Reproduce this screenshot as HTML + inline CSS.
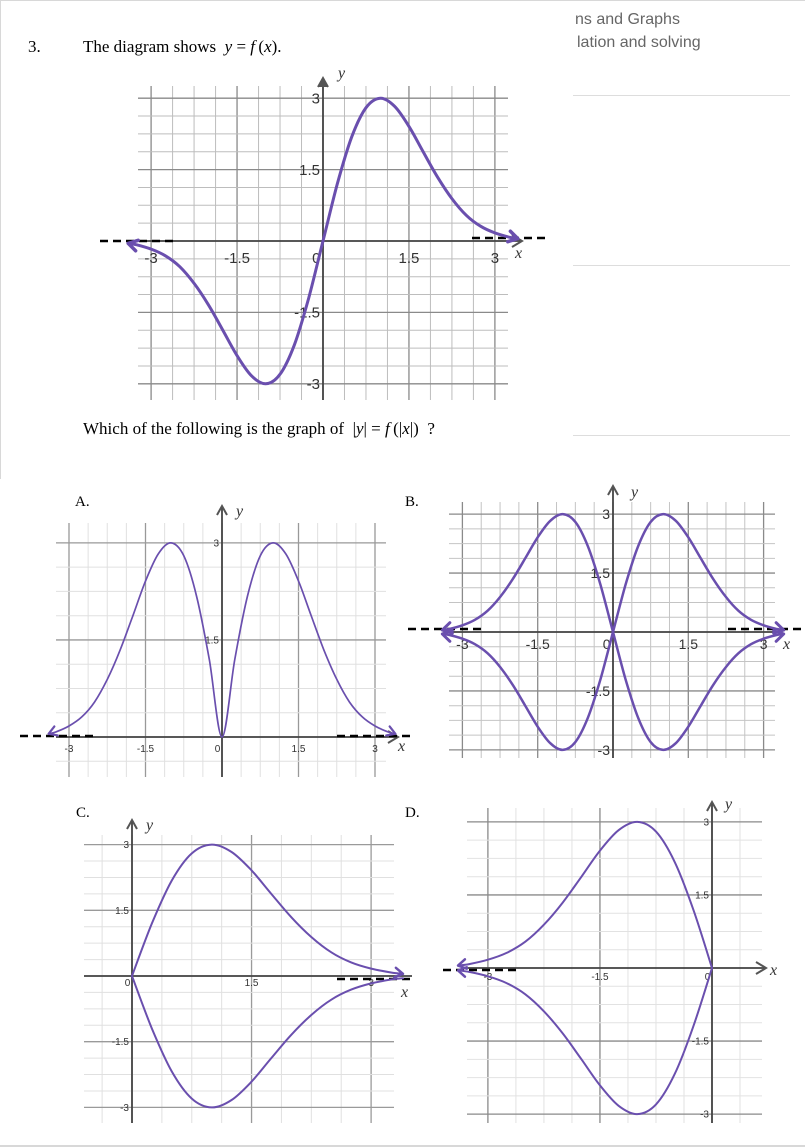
<!DOCTYPE html>
<html><head><meta charset="utf-8">
<style>
html,body{margin:0;padding:0;background:#fff;}
body{width:805px;height:1147px;overflow:hidden;position:relative;}
.t{position:absolute;font-family:"Liberation Serif",serif;font-size:17px;color:#000;white-space:nowrap;}
.g{position:absolute;font-family:"Liberation Sans",sans-serif;font-size:16px;color:#666;white-space:nowrap;}
svg text{font-family:"Liberation Sans",sans-serif;}
</style></head>
<body>
<div style="position:absolute;left:0;top:0;width:804px;height:478px;border-top:1px solid #d8d8d8;border-left:1px solid #d8d8d8;border-right:1px solid #d8d8d8;"></div>
<div style="position:absolute;left:0;top:1145px;width:805px;height:2px;background:#d8d8d8;"></div>
<div class="t" style="left:28px;top:37px;">3.</div>
<div class="t" style="left:83px;top:37px;">The diagram shows&nbsp; <i>y</i> = <i>f</i>&thinsp;(<i>x</i>).</div>
<div class="g" style="left:575px;top:11px;">ns and Graphs</div>
<div class="g" style="left:577px;top:34px;">lation and solving</div>
<div style="position:absolute;left:573px;top:95px;width:217px;height:1px;background:#ddd;"></div>
<div style="position:absolute;left:573px;top:265px;width:217px;height:1px;background:#ddd;"></div>
<div style="position:absolute;left:573px;top:435px;width:217px;height:1px;background:#ddd;"></div>
<div class="t" style="left:83px;top:419px;">Which of the following is the graph of &nbsp;|<i>y</i>| = <i>f</i>&thinsp;(|<i>x</i>|)&nbsp; ?</div>
<div class="t" style="left:75px;top:494px;font-size:15px;">A.</div>
<div class="t" style="left:405px;top:494px;font-size:15px;">B.</div>
<div class="t" style="left:76px;top:805px;font-size:15px;">C.</div>
<div class="t" style="left:405px;top:805px;font-size:15px;">D.</div>

<svg id="chart" width="805" height="1147" style="position:absolute;left:0;top:0;"></svg>

<script>
const xSamples = [0, 0.25, 0.5, 0.75, 1, 1.25, 1.5, 1.75, 2, 2.25, 2.5, 2.75, 3, 3.25, 3.4];
const fValues  = [0, 1.2, 2.18, 2.8, 3.0, 2.83, 2.41, 1.87, 1.34, 0.89, 0.54, 0.31, 0.17, 0.08, 0.05];
const tickLabelsX = ["-3", "-1.5", "0", "1.5", "3"];
const tickValuesX = [-3, -1.5, 0, 1.5, 3];
const tickLabelsY = ["3", "1.5", "-1.5", "-3"];
const tickValuesY = [3, 1.5, -1.5, -3];

const NS = "http://www.w3.org/2000/svg";
const svg = document.getElementById("chart");
const PURPLE = "#6a4fae";

function mk(tag, attrs, parent) {
  const e = document.createElementNS(NS, tag);
  for (const k in attrs) e.setAttribute(k, attrs[k]);
  (parent || svg).appendChild(e);
  return e;
}

function smoothPath(pts) {
  let d = "M" + pts[0][0].toFixed(1) + "," + pts[0][1].toFixed(1);
  for (let i = 0; i < pts.length - 1; i++) {
    const p0 = pts[Math.max(0, i - 1)], p1 = pts[i], p2 = pts[i + 1], p3 = pts[Math.min(pts.length - 1, i + 2)];
    const c1 = [p1[0] + (p2[0] - p0[0]) / 6, p1[1] + (p2[1] - p0[1]) / 6];
    const c2 = [p2[0] - (p3[0] - p1[0]) / 6, p2[1] - (p3[1] - p1[1]) / 6];
    d += " C" + c1[0].toFixed(1) + "," + c1[1].toFixed(1) + " " + c2[0].toFixed(1) + "," + c2[1].toFixed(1) + " " + p2[0].toFixed(1) + "," + p2[1].toFixed(1);
  }
  return d;
}

function graph(cfg) {
  const g = mk("g", {});
  
  
  const sx = v => cfg.ox + v * cfg.kx;
  const sy = v => cfg.oy - v * cfg.ky;
  // grid
  for (let i = 0; ; i++) {
    const v = cfg.gx0 + i * 0.375;
    if (v > cfg.gx1 + 1e-6) break;
    const major = Math.abs(v / 1.5 - Math.round(v / 1.5)) < 1e-6;
    const l = mk("line", {x1: sx(v), x2: sx(v), y1: cfg.vy0, y2: cfg.vy1, stroke: major ? cfg.majC : cfg.minC, "stroke-width": major ? 1.3 : 1}, g);
    
    
  }
  for (let i = 0; ; i++) {
    const v = cfg.gy1 - i * 0.375;
    if (v < cfg.gy0 - 1e-6) break;
    const major = Math.abs(v / 1.5 - Math.round(v / 1.5)) < 1e-6;
    const l = mk("line", {x1: cfg.hx0, x2: cfg.hx1, y1: sy(v), y2: sy(v), stroke: major ? cfg.majC : cfg.minC, "stroke-width": major ? 1.3 : 1}, g);
    
    
  }
  // axes
  const ax = mk("line", {x1: cfg.hx0, x2: cfg.axEnd, y1: cfg.oy, y2: cfg.oy, stroke: "#444", "stroke-width": 1.8}, g);
  
  
  const ay = mk("line", {x1: cfg.ox, x2: cfg.ox, y1: cfg.vy1, y2: cfg.ayEnd, stroke: "#444", "stroke-width": 1.8}, g);
  
  
  if (cfg.axArrowX) {
    const a = mk("path", {d: `M${cfg.axEnd-10},${cfg.oy-6} L${cfg.axEnd},${cfg.oy} L${cfg.axEnd-10},${cfg.oy+6}`, fill: "none", stroke: "#555", "stroke-width": 2}, g);
    
    
  }
  const ya = mk("path", {d: `M${cfg.ox-5},${cfg.ayEnd+9} L${cfg.ox},${cfg.ayEnd} L${cfg.ox+5},${cfg.ayEnd+9}`, fill: cfg.fillArrow ? "#555" : "none", stroke: "#555", "stroke-width": 2}, g);
  
  
  const xl = mk("text", {x: cfg.xLab[0], y: cfg.xLab[1], "font-size": 16, "font-style": "italic", fill: "#333", style: "font-family:'Liberation Serif',serif"}, g);
  xl.textContent = "x";
  
  
  const yl = mk("text", {x: cfg.yLab[0], y: cfg.yLab[1], "font-size": 16, "font-style": "italic", fill: "#333", style: "font-family:'Liberation Serif',serif"}, g);
  yl.textContent = "y";
  
  
  // tick labels
  tickValuesX.forEach((v, i) => {
    if (v < cfg.gx0 - 0.01 || v > cfg.gx1 + 0.01) return;
    const t = mk("text", {x: sx(v) + (v === 0 ? -cfg.fs * 0.45 : 0), y: cfg.oy + cfg.xTickDy, "font-size": cfg.fs, fill: "#333", "text-anchor": "middle"}, g);
    t.textContent = tickLabelsX[i];
    
    
  });
  tickValuesY.forEach((v, i) => {
    if (v < cfg.gy0 - 0.01 || v > cfg.gy1 + 0.01) return;
    const t = mk("text", {x: cfg.ox - 3, y: sy(v) + cfg.fs * 0.35, "font-size": cfg.fs, fill: "#333", "text-anchor": "end"}, g);
    t.textContent = tickLabelsY[i];
    
    
  });
  // dashed asymptotes
  cfg.dashes.forEach(d => {
    const l = mk("line", {x1: d[0], x2: d[1], y1: d[2], y2: d[2], stroke: "#000", "stroke-width": 2.5, "stroke-dasharray": "8,5"}, g);
    
    
  });
  // curves
  cfg.branches.forEach(br => {
    const pts = xSamples.map((x, i) => [sx(br.sx * x), sy(br.sy * fValues[i])]);
    if (br.full) {
      const neg = xSamples.slice(1).map((x, i) => [sx(-x), sy(br.fullSign * fValues[i + 1])]).reverse();
      pts.unshift(...neg);
    }
    const p = mk("path", {d: smoothPath(pts), fill: "none", stroke: PURPLE, "stroke-width": cfg.lw, "stroke-linecap": "round"}, g);
    
    
    const ends = br.arrows === "both" ? [[pts[pts.length-1], pts[pts.length-3]], [pts[0], pts[2]]] : br.arrows === "end" ? [[pts[pts.length-1], pts[pts.length-3]]] : [];
    ends.forEach(([tip, prev]) => {
      const dx = tip[0] - prev[0], dy = tip[1] - prev[1], L = Math.hypot(dx, dy);
      const ux = dx / L, uy = dy / L, s = cfg.ah;
      const a1 = [tip[0] - ux * s - uy * s * 0.6, tip[1] - uy * s + ux * s * 0.6];
      const a2 = [tip[0] - ux * s + uy * s * 0.6, tip[1] - uy * s - ux * s * 0.6];
      const ar = mk("path", {d: `M${a1[0]},${a1[1]} L${tip[0]},${tip[1]} L${a2[0]},${a2[1]}`, fill: "none", stroke: PURPLE, "stroke-width": cfg.lw + 0.5, "stroke-linejoin": "round", "stroke-linecap": "round"}, g);
      
      
    });
  });
}

// Main graph y = f(x)
graph({name: "main-graph", ox: 323, oy: 241, kx: 57.3, ky: 47.6, gx0: -3, gx1: 3, gy0: -3, gy1: 3,
  vy0: 86, vy1: 400, hx0: 138, hx1: 508, axEnd: 522, ayEnd: 78, axArrowX: true, fillArrow: true,
  majC: "#8a8a8a", minC: "#bdbdbd", xLab: [515, 258], yLab: [338, 78], fs: 15, xTickDy: 22, lw: 3, ah: 9,
  dashes: [[100, 178, 241], [472, 545, 238]],
  branches: [{name: "curve-f", sx: 1, sy: 1, full: true, fullSign: -1, arrows: "both"}]});

// Option A
graph({name: "option-a-graph", ox: 222, oy: 737, kx: 51, ky: 64.7, gx0: -3, gx1: 3, gy0: -0.375, gy1: 3,
  vy0: 523, vy1: 777, hx0: 56, hx1: 386, axEnd: 398, ayEnd: 506, axArrowX: true, fillArrow: false,
  majC: "#999", minC: "#e0e0e0", xLab: [398, 751], yLab: [236, 516], fs: 10, xTickDy: 15, lw: 1.7, ah: 8,
  dashes: [[20, 95, 736], [337, 410, 736]],
  branches: [{name: "curve-a", sx: 1, sy: 1, full: true, fullSign: 1, arrows: "both"}]});

// Option B
graph({name: "option-b-graph", ox: 613, oy: 632, kx: 50.2, ky: 39.3, gx0: -3, gx1: 3, gy0: -3, gy1: 3,
  vy0: 502, vy1: 758, hx0: 449, hx1: 775, axEnd: 780, ayEnd: 486, axArrowX: false, fillArrow: false,
  majC: "#8a8a8a", minC: "#c4c4c4", xLab: [783, 649], yLab: [631, 497], fs: 14, xTickDy: 17, lw: 2.5, ah: 9,
  dashes: [[408, 483, 629], [728, 805, 629]],
  branches: [
    {name: "curve-b-q1", sx: 1, sy: 1, arrows: "end"},
    {name: "curve-b-q2", sx: -1, sy: 1, arrows: "end"},
    {name: "curve-b-q3", sx: -1, sy: -1, arrows: "end"},
    {name: "curve-b-q4", sx: 1, sy: -1, arrows: "end"}]});

// Option C
graph({name: "option-c-graph", ox: 132, oy: 976, kx: 79.7, ky: 43.8, gx0: -0.375, gx1: 3, gy0: -3, gy1: 3,
  vy0: 835, vy1: 1123, hx0: 84, hx1: 394, axEnd: 412, ayEnd: 820, axArrowX: false, fillArrow: false,
  majC: "#9a9a9a", minC: "#e0e0e0", xLab: [401, 997], yLab: [146, 830], fs: 10, xTickDy: 10, lw: 2, ah: 8,
  dashes: [[337, 413, 979]],
  branches: [
    {name: "curve-c-upper", sx: 1, sy: 1, arrows: "end"},
    {name: "curve-c-lower", sx: 1, sy: -1, arrows: "none"}]});

// Option D
graph({name: "option-d-graph", ox: 712, oy: 968, kx: 74.7, ky: 48.7, gx0: -3, gx1: 0.375, gy0: -3, gy1: 3,
  vy0: 808, vy1: 1123, hx0: 467, hx1: 762, axEnd: 766, ayEnd: 802, axArrowX: true, fillArrow: false,
  majC: "#8a8a8a", minC: "#e2e2e2", xLab: [770, 975], yLab: [725, 809], fs: 10, xTickDy: 12, lw: 2, ah: 8,
  dashes: [[443, 518, 970]],
  branches: [
    {name: "curve-d-upper", sx: -1, sy: 1, arrows: "end"},
    {name: "curve-d-lower", sx: -1, sy: -1, arrows: "end"}]});
</script>
</body></html>
